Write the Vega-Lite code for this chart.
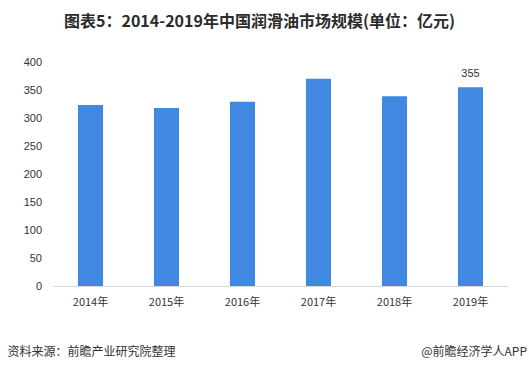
{
  "$schema": "https://vega.github.io/schema/vega-lite/v6.json",
  "width": 456,
  "height": 224,
  "autosize": {"type": "none"},
  "padding": {"left": 52.5, "top": 62, "right": 20.5, "bottom": 85},
  "background": "white",
  "title": {
    "text": "图表5：2014-2019年中国润滑油市场规模(单位：亿元)",
    "font": "Noto Sans CJK SC",
    "fontSize": 16,
    "fontWeight": "bold",
    "color": "#2b2b2b",
    "anchor": "middle",
    "frame": "group",
    "baseline": "middle",
    "offset": 18,
    "dx": -21
  },
  "config": {
    "view": {"stroke": null},
    "font": "Noto Sans CJK SC"
  },
  "data": {
    "values": [
      {"year": "2014年", "value": 323},
      {"year": "2015年", "value": 318},
      {"year": "2016年", "value": 329},
      {"year": "2017年", "value": 370},
      {"year": "2018年", "value": 339},
      {"year": "2019年", "value": 355}
    ]
  },
  "encoding": {
    "x": {
      "field": "year",
      "type": "nominal",
      "sort": null,
      "scale": {"paddingInner": 0.67, "paddingOuter": 0.335},
      "axis": {
        "title": "资料来源：前瞻产业研究院整理",
        "titleFont": "Noto Sans CJK SC",
        "titleFontSize": 12,
        "titleFontWeight": "normal",
        "titleColor": "#333333",
        "titleAlign": "left",
        "titleBaseline": "middle",
        "titleX": -45.5,
        "titleY": 65,
        "labelAngle": 0,
        "labelFontSize": 11,
        "labelColor": "#333333",
        "labelPadding": 10,
        "ticks": false,
        "domainColor": "#d9d9d9",
        "labelFont": "Noto Sans CJK SC"
      }
    },
    "y": {
      "field": "value",
      "type": "quantitative",
      "scale": {"domain": [0, 400]},
      "axis": {
        "values": [0, 50, 100, 150, 200, 250, 300, 350, 400],
        "title": "@前瞻经济学人APP",
        "titleFont": "Noto Sans CJK SC",
        "titleFontSize": 12,
        "titleFontWeight": "normal",
        "titleColor": "#333333",
        "titleAngle": 0,
        "titleAlign": "right",
        "titleBaseline": "middle",
        "titleX": 474,
        "titleY": 289,
        "grid": false,
        "domain": false,
        "ticks": false,
        "labelPadding": 11,
        "labelFontSize": 11,
        "labelColor": "#333333",
        "labelFont": "Liberation Sans"
      }
    }
  },
  "layer": [
    {"mark": {"type": "bar", "color": "#4188e3"}},
    {
      "transform": [{"filter": "datum.year === '2019年'"}],
      "mark": {"type": "text", "dy": -13, "fontSize": 11, "color": "#333333", "font": "Liberation Sans"},
      "encoding": {"text": {"field": "value", "type": "quantitative"}}
    }
  ]
}
